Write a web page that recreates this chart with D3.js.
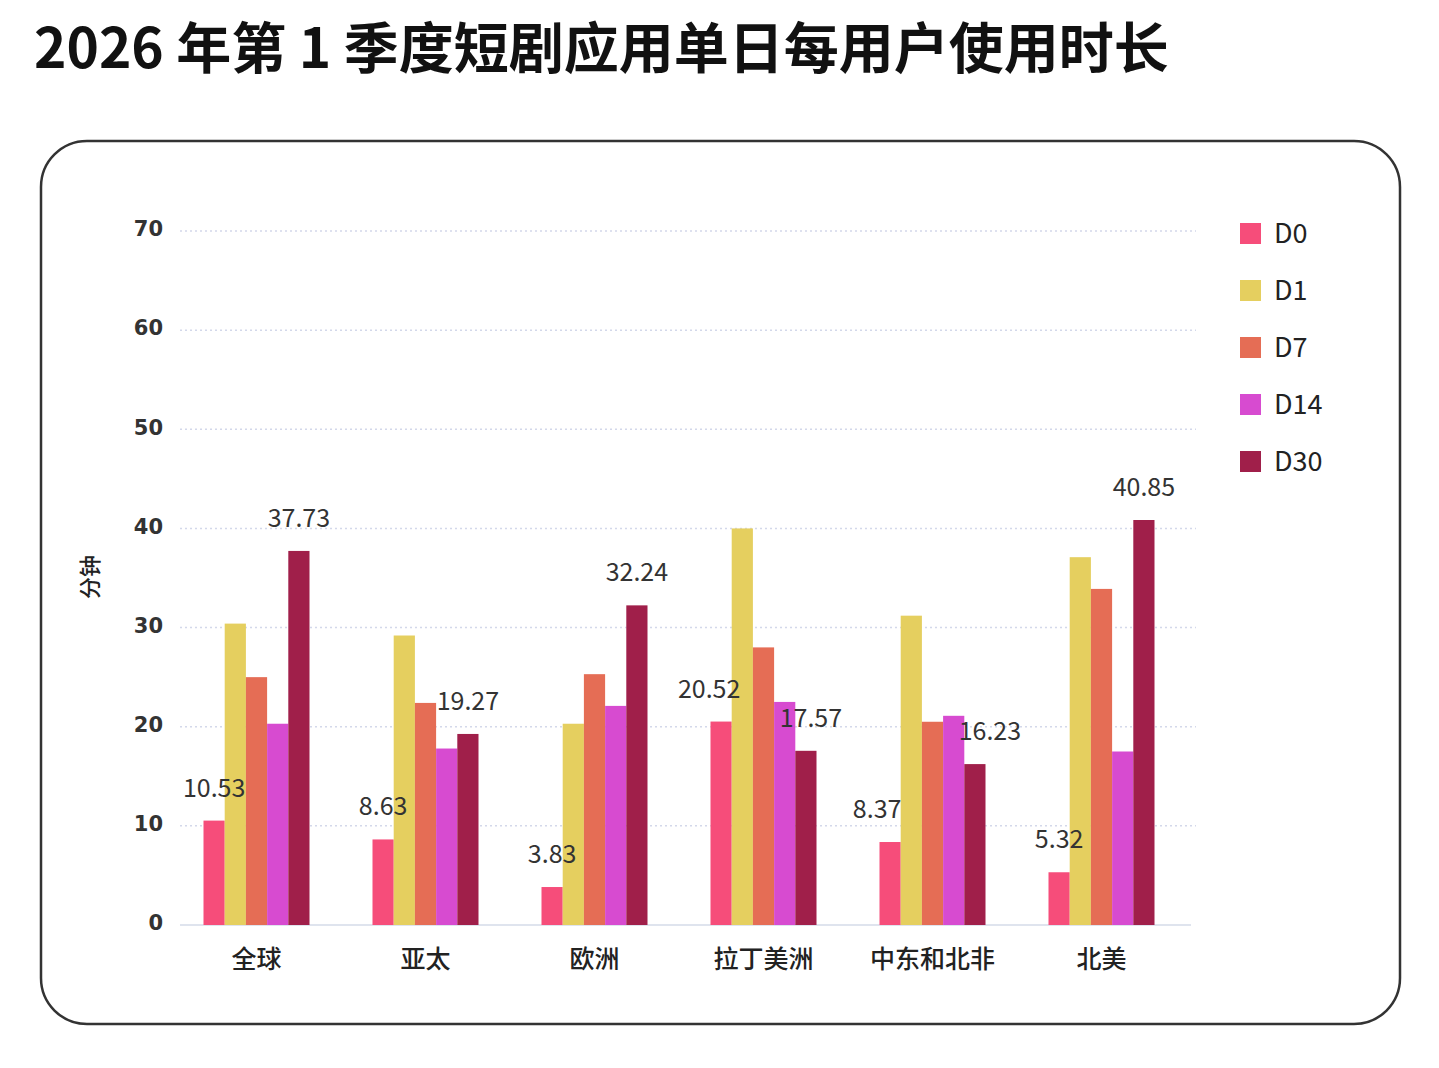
<!DOCTYPE html>
<html>
<head>
<meta charset="utf-8">
<script src="https://cdn.jsdelivr.net/npm/d3@7"></script>
<style>
  body { margin: 0; background: #fff; }
  svg { display: block; font-family: "Noto Sans CJK SC", "Noto Sans", sans-serif; }
</style>
</head>
<body>
<svg id="chart"></svg>
<script>
const regions = ['全球', '亚太', '欧洲', '拉丁美洲', '中东和北非', '北美'];
const seriesNames = ['D0', 'D1', 'D7', 'D14', 'D30'];
const d0  = [10.53, 8.63, 3.83, 20.52, 8.37, 5.32];
const d1  = [30.4, 29.2, 20.3, 40.0, 31.2, 37.1];
const d7  = [25.0, 22.4, 25.3, 28.0, 20.5, 33.9];
const d14 = [20.3, 17.8, 22.1, 22.5, 21.1, 17.5];
const d30 = [37.73, 19.27, 32.24, 17.57, 16.23, 40.85];
const yTicks = [0, 10, 20, 30, 40, 50, 60, 70];
const labelled = ['D0', 'D30'];

const colors = ['#f64d7a', '#e5cf5f', '#e56d55', '#d74bd0', '#a01f4a'];
const seriesValues = [d0, d1, d7, d14, d30];

// labels pushed sideways where they would sit on a neighbouring bar
const nudge = { '拉丁美洲': [-12, 5], '中东和北非': [-13, 15] };

const data = regions.map((r, i) => ({
    region: r,
    values: seriesNames.map((s, j) => ({ key: s, value: seriesValues[j][i], region: r }))
}));

const W = 1439, H = 1068;
const svg = d3.select('#chart').attr('width', W).attr('height', H);

// title
svg.append('text')
    .attr('x', 34).attr('y', 68)
    .style('font-size', '55px').style('font-weight', 'bold').style('fill', '#111')
    .text('2026 年第 1 季度短剧应用单日每用户使用时长');

// frame
svg.append('rect')
    .attr('x', 41).attr('y', 141).attr('width', 1359).attr('height', 883)
    .attr('rx', 46).attr('ry', 46)
    .attr('fill', 'none').attr('stroke', '#333').attr('stroke-width', 2.5);

const x0 = d3.scaleBand().domain(regions).range([172, 1186]).padding(0);
const x1 = d3.scaleBand().domain(seriesNames).range([-53, 53]).padding(0);
const y = d3.scaleLinear().domain([0, 70]).range([925, 231]);
const color = d3.scaleOrdinal().domain(seriesNames).range(colors);

// grid
svg.append('g').selectAll('line')
    .data(yTicks.filter(t => t > 0))
    .join('line')
    .attr('x1', 180).attr('x2', 1196)
    .attr('y1', d => y(d)).attr('y2', d => y(d))
    .attr('stroke', '#d3d8ea').attr('stroke-width', 1.5)
    .attr('stroke-dasharray', '2,3');

// y axis labels
const yAxis = svg.append('g')
    .attr('transform', 'translate(163,-2)')
    .call(d3.axisLeft(y).tickValues(yTicks).tickSize(0).tickPadding(0));
yAxis.select('.domain').remove();
yAxis.selectAll('text')
    .style('font-family', '"DejaVu Sans", sans-serif')
    .style('font-size', '21px').style('font-weight', 'bold').style('fill', '#333');

// baseline
svg.append('line')
    .attr('x1', 180).attr('x2', 1191)
    .attr('y1', y(0)).attr('y2', y(0))
    .attr('stroke', '#dfe4ee').attr('stroke-width', 2);

// x axis labels
const xAxis = svg.append('g')
    .attr('transform', `translate(0,${y(0)})`)
    .call(d3.axisBottom(x0).tickSize(0).tickPadding(25));
xAxis.select('.domain').remove();
xAxis.selectAll('text')
    .style('font-family', '"Noto Sans CJK SC", sans-serif')
    .style('font-size', '25px').style('font-weight', 500).style('fill', '#222');

// y title
svg.append('text')
    .attr('transform', 'translate(98,577) rotate(-90)')
    .attr('text-anchor', 'middle')
    .style('font-size', '22px').style('font-weight', 500).style('fill', '#222')
    .text('分钟');

// bars
const groups = svg.append('g').selectAll('g')
    .data(data)
    .join('g')
    .attr('transform', d => `translate(${x0(d.region) + x0.bandwidth() / 2},0)`);

groups.selectAll('rect')
    .data(d => d.values)
    .join('rect')
    .attr('x', d => x1(d.key))
    .attr('y', d => y(d.value))
    .attr('width', x1.bandwidth())
    .attr('height', d => y(0) - y(d.value))
    .attr('fill', d => color(d.key));

groups.selectAll('text.val')
    .data(d => d.values.filter(v => labelled.includes(v.key)))
    .join('text')
    .attr('class', 'val')
    .attr('x', d => {
        const n = nudge[d.region] ? nudge[d.region][labelled.indexOf(d.key)] : 0;
        return x1(d.key) + x1.bandwidth() / 2 + n;
    })
    .attr('y', d => y(d.value) - 24)
    .attr('text-anchor', 'middle')
    .style('font-size', '25px').style('fill', '#333')
    .text(d => d.value.toFixed(2));

// legend
const legend = svg.append('g').selectAll('g')
    .data(seriesNames)
    .join('g')
    .attr('transform', (d, i) => `translate(1240,${234 + i * 57})`);
legend.append('rect')
    .attr('x', 0).attr('y', -11).attr('width', 21).attr('height', 21)
    .attr('fill', d => color(d));
legend.append('text')
    .attr('x', 34).attr('y', 0).attr('dy', '0.35em')
    .style('font-size', '27px').style('fill', '#222')
    .text(d => d);
</script>
</body>
</html>
